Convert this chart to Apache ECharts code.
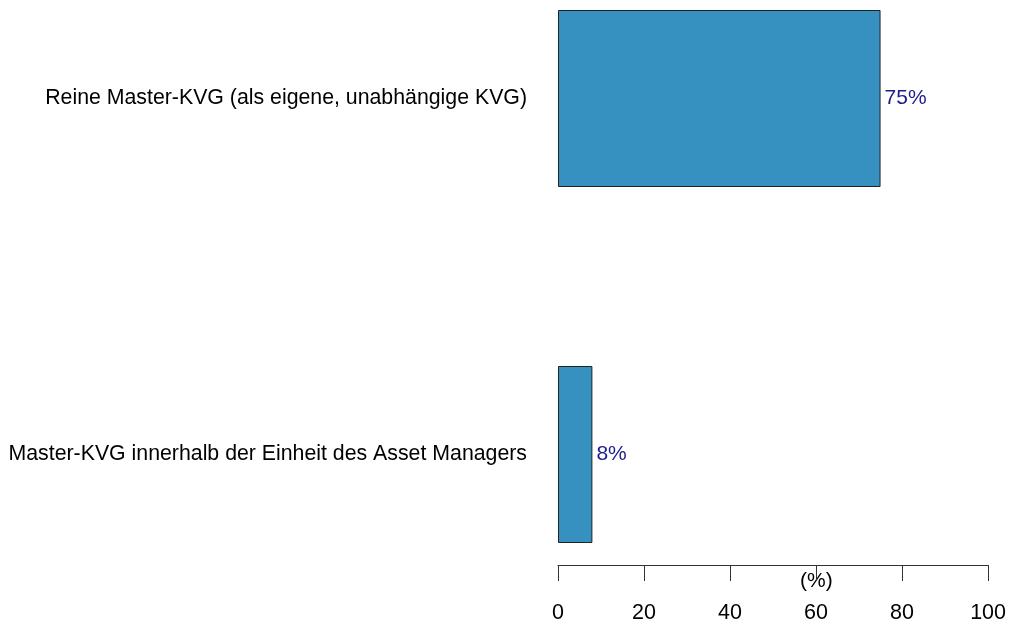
<!DOCTYPE html>
<html>
<head>
<meta charset="utf-8">
<script src="https://cdn.jsdelivr.net/npm/echarts@6/dist/echarts.min.js"></script>
<style>
  html, body { margin: 0; padding: 0; background: #ffffff; }
  #chart { width: 1009px; height: 624px; }
</style>
</head>
<body>
<div id="chart"></div>
<script>
// Survey answers: which Master-KVG model is used
const categories = [
  'Reine Master-KVG (als eigene, unabhängige KVG)',
  'Master-KVG innerhalb der Einheit des Asset Managers'
];
const shares = [75, 8];
const xTicks = [0, 20, 40, 60, 80, 100];

const fontFamily = '"Liberation Sans", Arial, Helvetica, sans-serif';
const chart = echarts.init(document.getElementById('chart'), null, { renderer: 'canvas' });

chart.setOption({
  animation: false,
  backgroundColor: '#ffffff',
  // category positions sit on the grid edges (boundaryGap off), bars centred on them
  grid: { left: 558, right: 20, top: 98.5, bottom: 169.5, containLabel: false },
  xAxis: {
    type: 'value',
    min: xTicks[0],
    max: xTicks[xTicks.length - 1],
    interval: 20,
    offset: 110.5,
    axisLine: { show: true, lineStyle: { color: '#333333', width: 1 } },
    axisTick: { show: true, length: 16, lineStyle: { color: '#333333', width: 1 } },
    splitLine: { show: false },
    axisLabel: { color: '#000000', fontSize: 21.5, fontFamily: fontFamily, margin: 37 }
  },
  yAxis: {
    type: 'category',
    inverse: true,
    boundaryGap: false,
    data: categories,
    axisLine: { show: false },
    axisTick: { show: false },
    splitLine: { show: false },
    axisLabel: { color: '#000000', fontSize: 21.3, fontFamily: fontFamily, margin: 31 }
  },
  graphic: [{
    type: 'text',
    left: 800,
    top: 571,
    style: { text: '(%)', fontSize: 21, fontFamily: fontFamily, fill: '#000000' }
  }],
  series: [{
    type: 'bar',
    data: shares,
    barWidth: 177,
    itemStyle: { color: '#3690C0', borderColor: '#222222', borderWidth: 1 },
    label: {
      show: true,
      position: 'right',
      distance: 4,
      formatter: '{c}%',
      color: '#1c1c8c',
      fontSize: 21,
      fontFamily: fontFamily
    }
  }]
});
</script>
</body>
</html>
